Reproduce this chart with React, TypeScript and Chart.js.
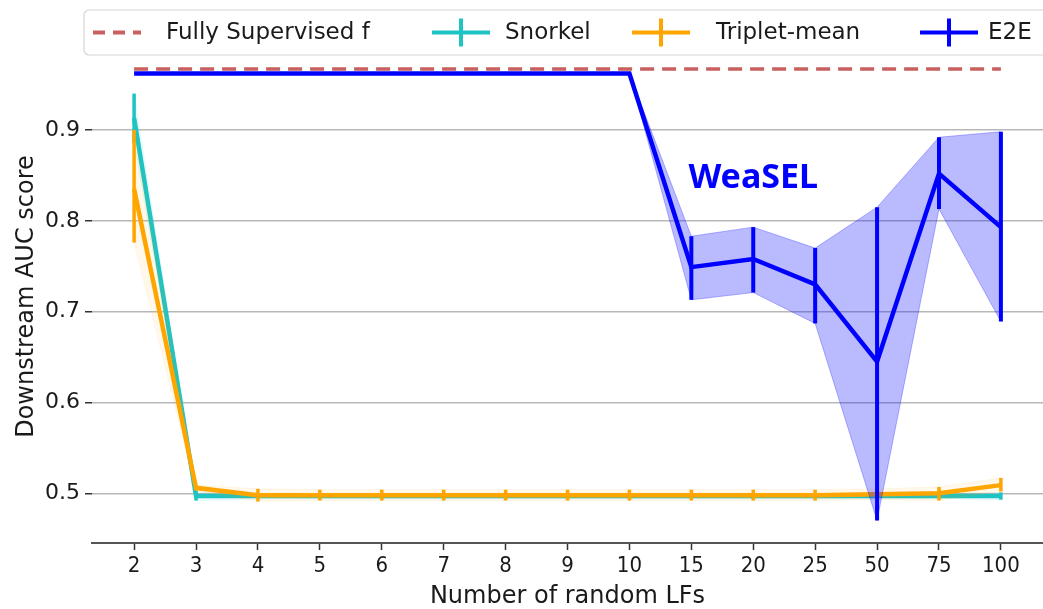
import React, { useEffect, useRef } from 'react';
import { Chart, registerables } from 'chart.js';

Chart.register(...registerables);

const categories = ['2', '3', '4', '5', '6', '7', '8', '9', '10', '15', '20', '25', '50', '75', '100'];
const yTickValues = [0.5, 0.6, 0.7, 0.8, 0.9];

const fullySupervised = [0.967, 0.967, 0.967, 0.967, 0.967, 0.967, 0.967, 0.967, 0.967, 0.967, 0.967, 0.967, 0.967, 0.967, 0.967];

const e2eMean = [0.962, 0.962, 0.962, 0.962, 0.962, 0.962, 0.962, 0.962, 0.962, 0.749, 0.758, 0.730, 0.645, 0.852, 0.793];
const e2eLow = [0.962, 0.962, 0.962, 0.962, 0.962, 0.962, 0.962, 0.962, 0.962, 0.713, 0.721, 0.687, 0.470, 0.813, 0.689];
const e2eHigh = [0.962, 0.962, 0.962, 0.962, 0.962, 0.962, 0.962, 0.962, 0.962, 0.783, 0.793, 0.770, 0.815, 0.892, 0.898];

const snorkelMean = [0.913, 0.497, 0.497, 0.497, 0.497, 0.497, 0.497, 0.497, 0.497, 0.497, 0.497, 0.497, 0.497, 0.497, 0.497];
const snorkelLow = [0.886, 0.492, 0.494, 0.494, 0.494, 0.494, 0.494, 0.494, 0.494, 0.494, 0.494, 0.494, 0.494, 0.494, 0.493];
const snorkelHigh = [0.940, 0.502, 0.500, 0.500, 0.500, 0.500, 0.500, 0.500, 0.500, 0.500, 0.500, 0.500, 0.500, 0.500, 0.501];

const tripletMean = [0.835, 0.506, 0.498, 0.498, 0.498, 0.498, 0.498, 0.498, 0.498, 0.498, 0.498, 0.498, 0.499, 0.500, 0.509];
const tripletLow = [0.776, 0.503, 0.491, 0.492, 0.492, 0.492, 0.492, 0.492, 0.492, 0.492, 0.492, 0.492, 0.493, 0.492, 0.502];
const tripletHigh = [0.900, 0.509, 0.505, 0.504, 0.504, 0.504, 0.504, 0.504, 0.504, 0.504, 0.504, 0.504, 0.505, 0.507, 0.517];

const weaselLabel = 'WeaSEL';
const weaselAt = { x: 10, y: 0.847 };

const COLORS = {
  fully: '#c8605f',
  snorkel: '#1ec3c3',
  triplet: '#ffa500',
  e2e: '#0000ff',
};

const toPts = (arr: number[]) => arr.map((v, i) => ({ x: i, y: v }));

const errorBarPlugin = {
  id: 'errorBars',
  afterDatasetDraw(chart: any, args: any) {
    const ds: any = chart.data.datasets[args.index];
    if (!ds.errLow || !ds.errHigh) return;
    const { ctx, scales } = chart;
    const xs = scales.x;
    const ys = scales.y;
    ctx.save();
    ctx.strokeStyle = ds.borderColor;
    ctx.lineWidth = ds.errWidth || 3.5;
    ctx.lineCap = 'butt';
    ds.errLow.forEach((lo: number, i: number) => {
      const hi = ds.errHigh[i];
      if (hi - lo < 0.0005) return;
      const px = xs.getPixelForValue(i);
      ctx.beginPath();
      ctx.moveTo(px, ys.getPixelForValue(lo));
      ctx.lineTo(px, ys.getPixelForValue(hi));
      ctx.stroke();
    });
    ctx.restore();
  },
};

const annotationPlugin = {
  id: 'weaselText',
  afterDatasetsDraw(chart: any) {
    const { ctx, scales } = chart;
    ctx.save();
    ctx.font = 'bold 34px "Noto Sans"';
    ctx.fillStyle = COLORS.e2e;
    ctx.textAlign = 'center';
    ctx.textBaseline = 'middle';
    ctx.fillText(weaselLabel, scales.x.getPixelForValue(weaselAt.x), scales.y.getPixelForValue(weaselAt.y));
    ctx.restore();
  },
};

const legendItems = [
  { label: 'Fully Supervised f', color: COLORS.fully, dashed: true, x0: 93, x1: 141, tx: 166 },
  { label: 'Snorkel', color: COLORS.snorkel, dashed: false, x0: 432, x1: 490, tx: 505 },
  { label: 'Triplet-mean', color: COLORS.triplet, dashed: false, x0: 632, x1: 690, tx: 716 },
  { label: 'E2E', color: COLORS.e2e, dashed: false, x0: 920, x1: 978, tx: 988 },
];

const legendPlugin = {
  id: 'customLegend',
  afterDraw(chart: any) {
    const { ctx } = chart;
    ctx.save();
    const bx = 84, by = 10, bw = 980, bh = 45, r = 5;
    ctx.beginPath();
    ctx.moveTo(bx + r, by);
    ctx.lineTo(bx + bw - r, by);
    ctx.arcTo(bx + bw, by, bx + bw, by + r, r);
    ctx.lineTo(bx + bw, by + bh - r);
    ctx.arcTo(bx + bw, by + bh, bx + bw - r, by + bh, r);
    ctx.lineTo(bx + r, by + bh);
    ctx.arcTo(bx, by + bh, bx, by + bh - r, r);
    ctx.lineTo(bx, by + r);
    ctx.arcTo(bx, by, bx + r, by, r);
    ctx.closePath();
    ctx.fillStyle = 'rgba(255,255,255,0.85)';
    ctx.fill();
    ctx.strokeStyle = '#d4d4d4';
    ctx.lineWidth = 1.2;
    ctx.stroke();
    const cy = by + bh / 2;
    legendItems.forEach((it) => {
      ctx.strokeStyle = it.color;
      ctx.lineWidth = 4;
      ctx.setLineDash(it.dashed ? [12, 8] : []);
      ctx.beginPath();
      ctx.moveTo(it.x0, cy);
      ctx.lineTo(it.x1, cy);
      ctx.stroke();
      ctx.setLineDash([]);
      if (!it.dashed) {
        const mx = (it.x0 + it.x1) / 2;
        ctx.beginPath();
        ctx.moveTo(mx, cy - 14);
        ctx.lineTo(mx, cy + 14);
        ctx.stroke();
      }
      ctx.fillStyle = '#1a1a1a';
      ctx.font = '23px "DejaVu Sans"';
      ctx.textAlign = 'left';
      ctx.textBaseline = 'middle';
      ctx.fillText(it.label, it.tx, cy + 1);
    });
    ctx.restore();
  },
};

export default function App() {
  const ref = useRef<HTMLCanvasElement | null>(null);

  useEffect(() => {
    document.body.style.margin = '0';
    const canvas = ref.current;
    if (!canvas) return;

    const lineBase = { pointRadius: 0, pointHoverRadius: 0, tension: 0, fill: false };

    const chart = new Chart(canvas, {
      type: 'line',
      data: {
        datasets: [
          { ...lineBase, label: 'E2E', data: toPts(e2eMean), borderColor: COLORS.e2e, borderWidth: 4.5, order: 0, errLow: e2eLow, errHigh: e2eHigh, errWidth: 4 } as any,
          { ...lineBase, label: 'e2eHi', data: toPts(e2eHigh), borderColor: 'rgba(0,0,255,0.28)', borderWidth: 1, order: 1 },
          { ...lineBase, label: 'e2eLo', data: toPts(e2eLow), borderColor: 'rgba(0,0,255,0.28)', borderWidth: 1, backgroundColor: 'rgba(0,0,255,0.27)', fill: '-1', order: 1 },
          { ...lineBase, label: 'Triplet-mean', data: toPts(tripletMean), borderColor: COLORS.triplet, borderWidth: 4.5, order: 2, errLow: tripletLow, errHigh: tripletHigh, errWidth: 3.5 } as any,
          { ...lineBase, label: 'tripHi', data: toPts(tripletHigh), borderColor: 'rgba(255,165,0,0.08)', borderWidth: 1, order: 3 },
          { ...lineBase, label: 'tripLo', data: toPts(tripletLow), borderColor: 'rgba(255,165,0,0.08)', borderWidth: 1, backgroundColor: 'rgba(255,165,0,0.08)', fill: '-1', order: 3 },
          { ...lineBase, label: 'Snorkel', data: toPts(snorkelMean), borderColor: COLORS.snorkel, borderWidth: 4.5, order: 4, errLow: snorkelLow, errHigh: snorkelHigh, errWidth: 3.5 } as any,
          { ...lineBase, label: 'snoHi', data: toPts(snorkelHigh), borderColor: 'rgba(30,195,195,0.08)', borderWidth: 1, order: 5 },
          { ...lineBase, label: 'snoLo', data: toPts(snorkelLow), borderColor: 'rgba(30,195,195,0.08)', borderWidth: 1, backgroundColor: 'rgba(30,195,195,0.08)', fill: '-1', order: 5 },
          { ...lineBase, label: 'Fully Supervised f', data: toPts(fullySupervised), borderColor: COLORS.fully, borderWidth: 3.5, borderDash: [14, 8], order: 6 },
        ],
      },
      options: {
        animation: false,
        responsive: false,
        maintainAspectRatio: false,
        layout: { padding: { top: 50, right: 0, left: 0, bottom: 0 } },
        plugins: {
          legend: { display: false },
          tooltip: { enabled: false },
        },
        scales: {
          x: {
            type: 'linear',
            min: -0.68,
            max: 14.68,
            afterFit: (s: any) => { s.height = 66; },
            afterBuildTicks: (s: any) => { s.ticks = categories.map((_, i) => ({ value: i })); },
            ticks: {
              callback: (v: any) => categories[Math.round(Number(v))],
              color: '#1a1a1a',
              font: { size: 22, family: '"DejaVu Sans Condensed", "DejaVu Sans"' },
              padding: 3,
              maxRotation: 0,
              autoSkip: false,
            },
            grid: { drawOnChartArea: false, tickLength: 7, tickWidth: 1.5, tickColor: '#333' },
            border: { display: true, color: '#555', width: 2 },
            title: {
              display: true,
              text: 'Number of random LFs',
              color: '#1a1a1a',
              font: { size: 24, family: '"DejaVu Sans"', lineHeight: 1.0 },
              padding: { top: 0, bottom: 0 },
            },
          },
          y: {
            type: 'linear',
            min: 0.4453,
            max: 0.988,
            afterFit: (s: any) => { s.width = 92; },
            afterBuildTicks: (s: any) => { s.ticks = yTickValues.map((v) => ({ value: v })); },
            ticks: {
              callback: (v: any) => Number(v).toFixed(1),
              color: '#1a1a1a',
              font: { size: 22, family: '"DejaVu Sans"' },
              padding: 5,
            },
            grid: { color: '#b8b8b8', lineWidth: 1.5, tickLength: 7, tickWidth: 1.5, tickColor: '#333' },
            border: { display: false },
            title: {
              display: true,
              text: 'Downstream AUC score',
              color: '#1a1a1a',
              font: { size: 24, family: '"DejaVu Sans"' },
              padding: { top: 12, bottom: 0 },
            },
          },
        },
      },
      plugins: [errorBarPlugin, annotationPlugin, legendPlugin],
    });

    return () => chart.destroy();
  }, []);

  return (
    <div style={{ width: 1043, height: 609, background: '#fff' }}>
      <canvas ref={ref} width={1043} height={609} style={{ display: 'block' }} />
    </div>
  );
}
